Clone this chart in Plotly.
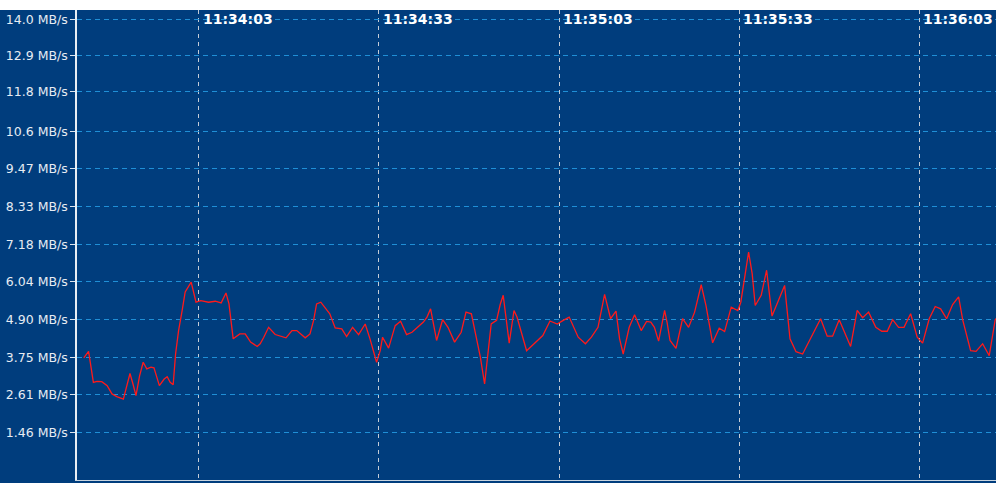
import pandas as pd
import plotly.graph_objects as go

# seconds relative to 11:34:03
t_sec = [-19.2, -18.4, -17.6, -17.0, -16.2, -15.3, -14.5, -13.7, -12.6, -11.5,
         -11.0, -10.5, -9.9, -9.3, -8.7, -8.0, -7.5, -6.6, -5.8, -5.3,
         -4.8, -4.3, -3.9, -3.4, -2.8, -2.3, -1.3, -0.5, 0.3, 1.6,
         2.7, 3.7, 4.5, 5.0, 5.7, 6.8, 7.7, 8.6, 9.7, 10.2,
         10.8, 11.6, 12.7, 13.5, 14.5, 15.5, 16.3, 17.7, 18.5, 19.1,
         19.6, 20.3, 21.0, 21.8, 22.7, 23.8, 24.6, 25.6, 26.6, 27.7,
         28.5, 29.6, 30.2, 30.6, 31.6, 32.7, 33.6, 34.6, 35.5, 37.4,
         38.0, 38.6, 39.6, 40.6, 41.5, 42.6, 43.7, 44.5, 45.4, 46.2,
         46.9, 47.6, 48.2, 48.7, 49.6, 50.2, 50.7, 51.1, 51.7, 52.5,
         53.0, 54.6, 56.2, 57.3, 58.5, 59.7, 60.7, 61.7, 63.2, 64.4,
         65.4, 66.5, 67.6, 68.6, 69.5, 70.1, 70.7, 71.7, 72.6, 73.7,
         74.6, 75.3, 75.9, 76.6, 77.6, 78.0, 78.5, 79.5, 80.6, 81.6,
         82.6, 83.7, 84.5, 85.6, 86.7, 87.6, 88.7, 89.8, 90.3, 91.6,
         92.2, 92.7, 93.7, 94.6, 95.5, 96.5, 97.6, 98.5, 99.5, 100.6,
         102.0, 103.6, 104.7, 105.6, 106.7, 108.6, 109.7, 110.6, 111.6, 112.8,
         113.8, 114.7, 115.6, 116.6, 117.5, 118.6, 119.7, 120.6, 121.7, 122.7,
         123.6, 124.6, 125.6, 126.6, 127.3, 128.6, 129.5, 130.6, 131.7, 132.7,
         133.2]

speed_mbs = [3.73, 3.93, 2.99, 3.02, 3.01, 2.89, 2.64, 2.56, 2.48, 3.26,
             2.94, 2.59, 3.19, 3.60, 3.40, 3.45, 3.43, 2.89, 3.09, 3.16,
             2.99, 2.92, 3.85, 4.56, 5.17, 5.73, 6.03, 5.42, 5.47, 5.42,
             5.45, 5.40, 5.70, 5.37, 4.31, 4.46, 4.46, 4.21, 4.08, 4.16,
             4.36, 4.66, 4.44, 4.39, 4.34, 4.56, 4.56, 4.34, 4.46, 4.87,
             5.37, 5.42, 5.27, 5.07, 4.64, 4.61, 4.38, 4.66, 4.44, 4.76,
             4.31, 3.60, 3.95, 4.36, 4.03, 4.71, 4.84, 4.44, 4.51, 4.82,
             4.97, 5.22, 4.26, 4.89, 4.66, 4.21, 4.51, 5.12, 5.07, 4.36,
             3.75, 2.94, 4.05, 4.76, 4.87, 5.35, 5.63, 5.07, 4.18, 5.17,
             4.97, 3.95, 4.21, 4.41, 4.85, 4.76, 4.87, 4.97, 4.36, 4.16,
             4.36, 4.66, 5.66, 4.92, 5.15, 4.31, 3.85, 4.66, 5.04, 4.56,
             4.84, 4.82, 4.66, 4.24, 5.17, 4.82, 4.26, 4.02, 4.92, 4.66,
             5.12, 5.95, 5.32, 4.19, 4.63, 4.53, 5.27, 5.17, 5.42, 6.94,
             6.28, 5.32, 5.63, 6.39, 5.00, 5.42, 5.93, 4.31, 3.92, 3.85,
             4.36, 4.92, 4.39, 4.39, 4.89, 4.08, 5.17, 4.95, 5.12, 4.66,
             4.54, 4.54, 4.89, 4.66, 4.66, 5.07, 4.36, 4.18, 4.92, 5.29,
             5.22, 4.92, 5.35, 5.58, 4.87, 3.95, 3.93, 4.16, 3.80, 4.89,
             5.00]

y_tickvals = [1.46, 2.61, 3.75, 4.90, 6.04, 7.18, 8.33, 9.47, 10.6, 11.8, 12.9, 14.0]
y_ticktext = ["1.46 MB/s", "2.61 MB/s", "3.75 MB/s", "4.90 MB/s", "6.04 MB/s",
              "7.18 MB/s", "8.33 MB/s", "9.47 MB/s", "10.6 MB/s", "11.8 MB/s",
              "12.9 MB/s", "14.0 MB/s"]

base = pd.Timestamp("2024-01-01 11:34:03")
times = [base + pd.to_timedelta(s, unit="s") for s in t_sec]
x_start = base + pd.to_timedelta(-20.33, unit="s")
x_end = base + pd.to_timedelta(132.83, unit="s")

BG = "#003d7d"

fig = go.Figure()
fig.add_trace(go.Scatter(x=times, y=speed_mbs, mode="lines", xaxis="x", yaxis="y",
                         line=dict(color="#ff1a1a", width=1.3), hoverinfo="skip"))
# empty trace so that the time-label axis is drawn
fig.add_trace(go.Scatter(x=[], y=[], mode="lines", xaxis="x2", yaxis="y",
                         hoverinfo="skip"))

fig.update_layout(
    width=996, height=483,
    margin=dict(l=77, r=0, t=10, b=3),
    paper_bgcolor=BG, plot_bgcolor=BG,
    showlegend=False,
    shapes=[dict(type="rect", xref="paper", yref="paper", x0=-0.2, x1=1.1,
                 y0=1.0, y1=1.1, fillcolor="white", line=dict(width=0), layer="above")],
    xaxis=dict(
        type="date", range=[x_start, x_end], side="bottom",
        tick0=base, dtick=30000, showticklabels=False, ticks="",
        showgrid=True, gridcolor="#c4ccd6", griddash="4px,4px", gridwidth=1,
        showline=True, linecolor="#c8d4e0", linewidth=1, zeroline=False,
    ),
    xaxis2=dict(
        type="date", range=[x_start, x_end], overlaying="x", anchor="free", position=0.965,
        side="top", tick0=base, dtick=30000, tickformat="%H:%M:%S",
        ticklabelposition="outside right", ticks="", ticklabelshift=4, ticklabelstandoff=0,
        tickfont=dict(family="DejaVu Sans", size=14, color="white", weight="bold"),
        showgrid=False, showline=False, zeroline=False,
    ),
    yaxis=dict(
        range=[0.03, 14.28], tickvals=y_tickvals, ticktext=y_ticktext,
        ticks="outside", ticklen=5, tickcolor="#dfe6ee", tickwidth=1,
        tickfont=dict(family="DejaVu Sans", size=12.5, color="#e6ecf3"),
        showgrid=True, gridcolor="#1f8fd6", griddash="5px,4px", gridwidth=1,
        showline=True, linecolor="#e8eef4", linewidth=1.5, zeroline=False,
    ),
)

fig.write_html("out.html", post_script="document.body.style.margin='0';",
               config={"displayModeBar": False})
